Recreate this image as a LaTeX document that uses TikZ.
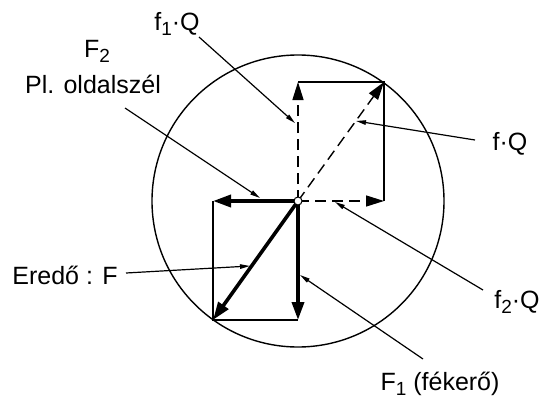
\documentclass[tikz,border=0pt]{standalone}
\usepackage{fontspec}
\setmainfont{Liberation Sans}
\usetikzlibrary{arrows.meta,calc}
\newcommand{\lowidx}[1]{\raisebox{-5pt}{\fontsize{19}{19}\selectfont #1}}

\begin{document}
\begin{tikzpicture}[x=1pt,y=-1pt,>=Triangle,
  every node/.style={font=\fontsize{25}{30}\selectfont,inner sep=0pt},
  vec/.style={line width=1.4pt,dash pattern=on 11pt off 6pt,-{Triangle[length=18pt,width=11pt]}},
  force/.style={line width=3.6pt,-{Triangle[length=18pt,width=12pt]}},
  frame/.style={line width=1.4pt},
  lead/.style={line width=1.2pt,-{Triangle[length=10pt,width=4.5pt]}},
  pivot/.style={circle,draw,fill=white,line width=1pt,minimum size=8pt}]
  \useasboundingbox (0,0) rectangle (544,399);
  \coordinate (O) at (298,201);
  \draw[line width=1.4pt] (O) circle (146);
  % felso negyszog
  \coordinate (Q1) at (298,82);
  \coordinate (Q2) at (384,201);
  \coordinate (Q) at (384,82);
  \draw[frame] (Q1) -- (Q) -- (Q2);
  \draw[vec] (O) -- (Q1);
  \draw[vec] (O) -- (Q2);
  \draw[vec] (O) -- (Q);
  % also negyszog
  \coordinate (F2) at (213,201);
  \coordinate (F1) at (298,320);
  \coordinate (F) at (213,320);
  \draw[frame] (F2) -- (F) -- (F1);
  \draw[force] (O) -- (F2);
  \draw[force] (O) -- (F1);
  \draw[force] (O) -- (F);
  \node[pivot] (o) at (O) {};
  % feliratok
  \node[anchor=base] (f1Q) at (177,30) {f\lowidx{1}·Q};
  \node[anchor=base] (F2t) at (97,57) {F\lowidx{2}};
  \node[anchor=base] (side) at (93,93) {Pl. oldalszél};
  \node[anchor=base] (fQ) at (510,150) {f·Q};
  \node[anchor=base] (f2Q) at (517,308) {f\lowidx{2}·Q};
  \node[anchor=base] (F1t) at (440,390) {F\lowidx{1} (fékerő)};
  \node[anchor=base] (Ft) at (65,284) {Eredő : F};
  \coordinate (a1) at (199,37);  \coordinate (b1) at (295,123);
  \coordinate (a2) at (125,108); \coordinate (b2) at (260,198);
  \coordinate (a3) at (475,140); \coordinate (b3) at (356,121);
  \coordinate (a4) at (483,290); \coordinate (b4) at (335,202);
  \coordinate (a5) at (423,359); \coordinate (b5) at (300,275);
  \coordinate (a6) at (126,273); \coordinate (b6) at (250,266);
  \draw[lead] (a1) -- (b1);
  \draw[lead] (a2) -- (b2);
  \draw[lead] (a3) -- (b3);
  \draw[lead] (a4) -- (b4);
  \draw[lead] (a5) -- (b5);
  \draw[lead] (a6) -- (b6);
\end{tikzpicture}
\end{document}
